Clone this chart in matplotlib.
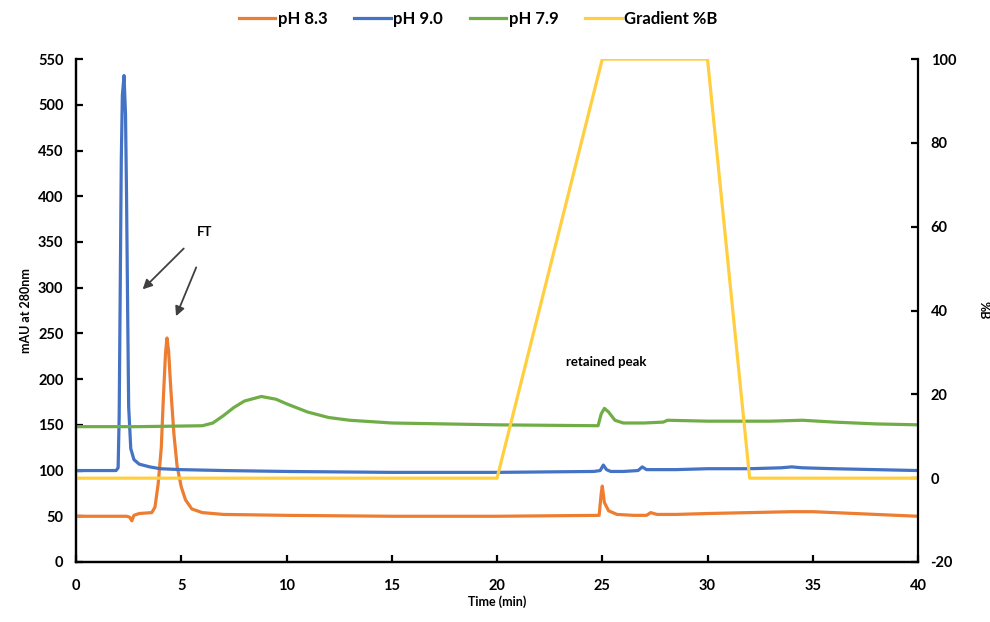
import matplotlib.pyplot as plt

# Font close to the Excel/Calibri look
plt.rcParams["font.family"] = ["Lato", "DejaVu Sans"]
plt.rcParams["font.weight"] = "bold"
plt.rcParams["axes.unicode_minus"] = False

# Chromatogram traces (time in min, absorbance in mAU at 280 nm)
ph90_time = [0, 1.9, 2.0, 2.05, 2.1, 2.15, 2.2, 2.28, 2.35, 2.4, 2.45, 2.5, 2.6,
             2.75, 3.0, 3.5, 4.0, 5.0, 7.0, 10, 15, 20, 24.6, 24.9, 25.05, 25.2,
             25.4, 26.0, 26.7, 26.9, 27.1, 27.5, 28.5, 30, 32, 33.5, 34, 34.5,
             36, 38, 40]
ph90_mau = [100, 100, 103, 160, 300, 440, 510, 532, 490, 400, 280, 170, 124,
            112, 107, 104, 102, 101, 100, 99, 98, 98, 99, 100, 106, 101,
            99, 99, 100, 104, 101, 101, 101, 102, 102, 103, 104, 103,
            102, 101, 100]

ph83_time = [0, 2.4, 2.55, 2.65, 2.75, 3.0, 3.6, 3.75, 3.9, 4.05, 4.15, 4.25,
             4.32, 4.4, 4.5, 4.65, 4.8, 5.0, 5.2, 5.5, 6.0, 7.0, 10, 15, 20,
             24.85, 24.95, 25.0, 25.1, 25.3, 25.7, 26.5, 27.1, 27.3, 27.6, 28.5,
             30, 32, 34, 35, 37, 40]
ph83_mau = [50, 50, 49, 45, 51, 53, 54, 60, 85, 125, 180, 228,
            245, 230, 190, 140, 105, 82, 68, 58, 54, 52, 51, 50, 50,
            51, 75, 83, 65, 56, 52, 51, 51, 54, 52, 52,
            53, 54, 55, 55, 53, 50]

ph79_time = [0, 3, 6.0, 6.5, 7.0, 7.5, 8.0, 8.8, 9.5, 10, 11, 12, 13, 15, 20,
             24.8, 24.95, 25.1, 25.3, 25.6, 26.0, 27, 27.9, 28.1, 30, 33,
             34.5, 36, 38, 40]
ph79_mau = [148, 148, 149, 152, 160, 169, 176, 181, 178, 173, 164, 158, 155,
            152, 150, 149, 162, 168, 164, 155, 152, 152, 153, 155, 154, 154,
            155, 153, 151, 150]

# Gradient program (%B, right axis)
grad_time = [0, 20, 25, 30, 32, 40]
grad_pct = [0, 0, 100, 100, 0, 0]

ORANGE = "#ED7D31"
BLUE = "#4472C4"
GREEN = "#70AD47"
YELLOW = "#FFCF40"

fig = plt.figure(figsize=(9.9, 6.22), dpi=100)
ax = fig.add_axes([0.0768, 0.0965, 0.8505, 0.8085])
ax2 = ax.twinx()

lw = 2.3
l1, = ax.plot(ph83_time, ph83_mau, color=ORANGE, lw=lw, label="pH 8.3", zorder=3)
l2, = ax.plot(ph90_time, ph90_mau, color=BLUE, lw=lw, label="pH 9.0", zorder=3)
l3, = ax.plot(ph79_time, ph79_mau, color=GREEN, lw=lw, label="pH 7.9", zorder=3)
l4, = ax2.plot(grad_time, grad_pct, color=YELLOW, lw=lw, label="Gradient %B")

ax.set_xlim(0, 40)
ax.set_ylim(0, 550)
ax2.set_ylim(-20, 100)
ax.set_xticks(range(0, 41, 5))
ax.set_yticks(range(0, 551, 50))
ax2.set_yticks(range(-20, 101, 20))

for a in (ax, ax2):
    a.spines["top"].set_visible(False)
    for s in a.spines.values():
        s.set_linewidth(1.6)
    a.tick_params(direction="in", length=5, width=1.6, labelsize=10.5, pad=9)
    for lab in a.get_xticklabels() + a.get_yticklabels():
        lab.set_fontweight("bold")
ax.spines["right"].set_visible(False)
ax.tick_params(axis="x", pad=12)

ax.set_xlabel("Time (min)", fontsize=9, fontweight="bold", labelpad=2)
ax.set_ylabel("mAU at 280nm", fontsize=9, fontweight="bold", labelpad=4)
ax2.set_ylabel("%B", fontsize=9, fontweight="bold", rotation=270, labelpad=24)

# Annotations
arrow = dict(arrowstyle="-|>", color="#404040", lw=1.3, mutation_scale=14)
ax.text(6.13, 361, "FT", fontsize=9.5, fontweight="bold", ha="center", va="center")
ax.annotate("", xy=(3.07, 296), xytext=(5.21, 345), arrowprops=arrow)
ax.annotate("", xy=(4.70, 266), xytext=(5.76, 325), arrowprops=arrow)
ax.text(25.2, 219, "retained peak", fontsize=9.5, fontweight="bold",
        ha="center", va="center")

fig.legend(handles=[l1, l2, l3, l4], loc="center", bbox_to_anchor=(0.483, 0.969),
           ncol=4, frameon=False, prop={"size": 12, "weight": "bold"},
           handlelength=2.2, handletextpad=0.15, columnspacing=1.6)

fig.savefig("out.png", dpi=100)
plt.close(fig)
